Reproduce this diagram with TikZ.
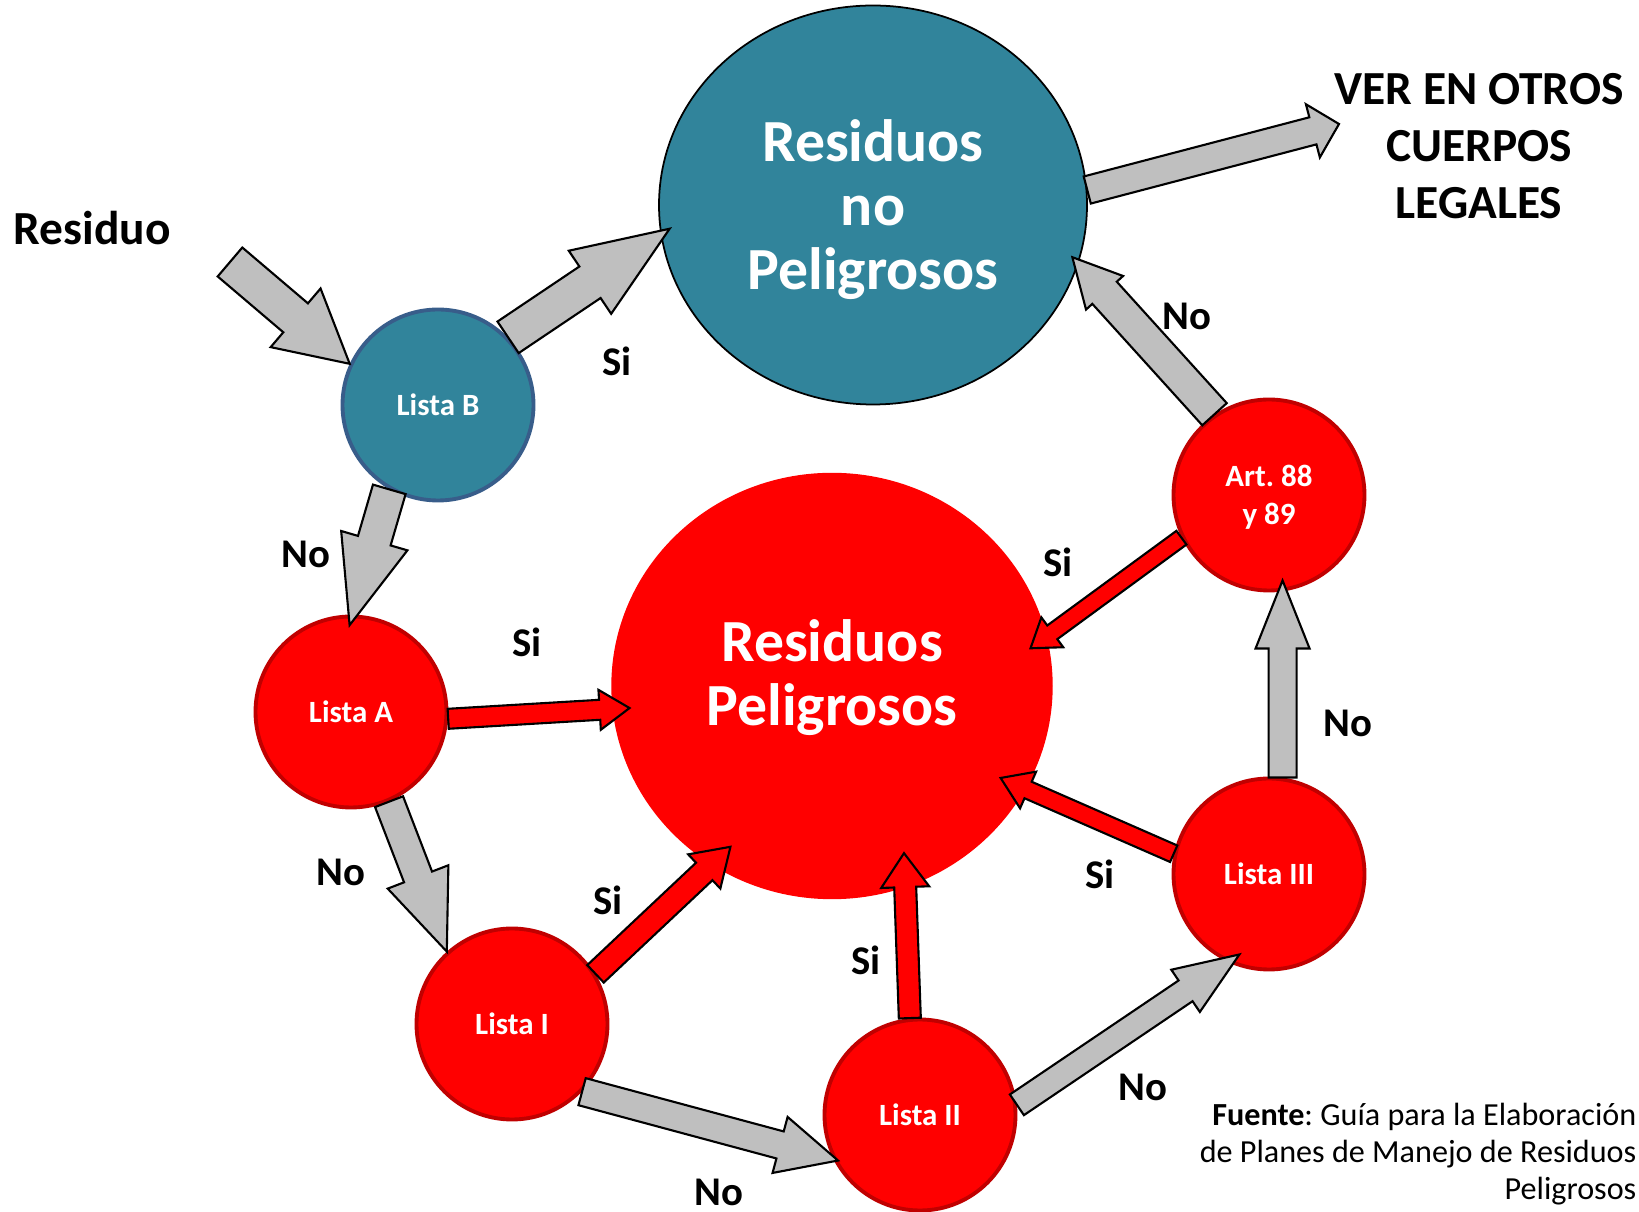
\documentclass[tikz,border=0pt]{standalone}
\usepackage{fontspec}
\setmainfont{Carlito}
\usepackage{xcolor}
\usepackage{tikz}
\usetikzlibrary{calc}
\usetikzlibrary{shapes.geometric}
\frenchspacing
\definecolor{azul}{HTML}{31849B}
\definecolor{azulborde}{HTML}{385D8A}
\definecolor{rojo}{HTML}{FF0000}
\definecolor{rojoborde}{HTML}{C00000}
\definecolor{gris}{HTML}{BFBFBF}
\tikzset{
	lista/.style={circle,draw=rojoborde,fill=rojo,line width=1.1pt,minimum size=1.91cm,inner sep=0pt,text=white,align=center,font=\bfseries\fontsize{8.8}{10.7}\selectfont},
	grande/.style={ellipse,inner sep=0pt,text=white,align=center,font=\bfseries\fontsize{17}{18.2}\selectfont},
	titulo/.style={align=center,font=\bfseries\fontsize{13.5}{16.3}\selectfont},
	rotulo/.style={font=\bfseries\fontsize{11.6}{13}\selectfont},
	gruesa/.style={draw=black,fill=gris,line width=0.6pt,line join=miter},
	delgada/.style={draw=black,fill=rojo,line width=0.6pt,line join=miter}
}
% flecha de bloque: [entra], estilo, desde, hasta, medio ancho, media punta, largo punta
\newcommand{\flecha}[7][0cm]{%
	\coordinate (f1) at (#3);
	\coordinate (f2) at ($(#4)!-#1!(#3)$);
	\coordinate (fn) at ($(f2)!#7!(f1)$);
	\draw[#2] ($(f1)!#5!90:(f2)$)--($(fn)!#5!-90:(f1)$)--($(fn)!#6!-90:(f1)$)--(f2)--($(fn)!#6!90:(f1)$)--($(fn)!#5!90:(f1)$)--($(f1)!#5!-90:(f2)$)--cycle;
}

\begin{document}
\begin{tikzpicture}
	\useasboundingbox (0,0) rectangle (16.39,12.12);
	\node[grande,draw=black,line width=0.5pt,fill=azul,minimum width=4.28cm,minimum height=3.99cm,text depth=0pt] (nopeligrosos) at (8.73,10.07) {Residuos\\no\\Peligrosos};
	\node[grande,draw=rojo,fill=rojo,minimum width=4.4cm,minimum height=4.25cm,text depth=0.27cm] (peligrosos) at (8.32,5.26) {Residuos\\Peligrosos};
	\node[lista,draw=azulborde,fill=azul] (listab) at (4.38,8.07) {Lista B};
	\node[lista] (listaa) at (3.51,5.00) {Lista A};
	\node[lista] (listai) at (5.12,1.88) {Lista I};
	\node[lista] (listaii) at (9.20,0.97) {Lista II};
	\node[lista] (listaiii) at (12.69,3.38) {Lista III};
	\node[lista,text depth=0pt] (art) at (12.69,7.17) {Art. 88\\y 89};
	\node[titulo] (residuo) at (0.92,9.84) {Residuo};
	\node[titulo] (ver) at (14.79,10.66) {VER EN OTROS\\CUERPOS\\LEGALES};
	\node[align=right,anchor=east,inner sep=0pt,font=\fontsize{9.15}{10.5}\selectfont] (fuente) at (16.37,0.58) {\textbf{Fuente}: Guía para la Elaboración\\de Planes de Manejo de Residuos\\Peligrosos};
	\coordinate (entrada) at (2.30,9.50);
	\coordinate (salida) at (13.39,10.88);
	% flechas grises (No)
	\flecha{gruesa}{entrada}{listab.155}{0.19cm}{0.385cm}{0.71cm}
	\flecha[0.11cm]{gruesa}{listab.44}{nopeligrosos.188}{0.19cm}{0.38cm}{0.96cm}
	\flecha[0.11cm]{gruesa}{listab.-120}{listaa.89}{0.17cm}{0.345cm}{0.88cm}
	\flecha{gruesa}{listaa.-67}{listai.132}{0.15cm}{0.325cm}{0.80cm}
	\flecha[0.05cm]{gruesa}{listai.-44}{listaii.207}{0.14cm}{0.29cm}{0.60cm}
	\flecha[0.14cm]{gruesa}{listaii.6}{listaiii.-115}{0.125cm}{0.255cm}{0.65cm}
	\flecha[0.11cm]{gruesa}{listaiii.82}{art.-82}{0.14cm}{0.27cm}{0.68cm}
	\flecha[0.09cm]{gruesa}{art.124}{nopeligrosos.-16}{0.165cm}{0.25cm}{0.48cm}
	\flecha{gruesa}{nopeligrosos.4.5}{salida}{0.14cm}{0.275cm}{0.27cm}
	% flechas rojas (Si)
	\flecha[0.17cm]{delgada}{listaa.-4}{peligrosos.186}{0.10cm}{0.20cm}{0.30cm}
	\flecha[0.26cm]{delgada}{listai.31}{peligrosos.236}{0.12cm}{0.235cm}{0.36cm}
	\flecha[0.34cm]{delgada}{listaii.96}{peligrosos.-70}{0.11cm}{0.24cm}{0.34cm}
	\flecha[0.27cm]{delgada}{listaiii.168}{peligrosos.-28}{0.09cm}{0.20cm}{0.30cm}
	\flecha[0.20cm]{delgada}{art.206}{peligrosos.13}{0.085cm}{0.185cm}{0.27cm}
	% rotulos
	\node[rotulo] (si1) at (6.17,8.51) {Si};
	\node[rotulo] (no1) at (3.06,6.58) {No};
	\node[rotulo] (si2) at (5.27,5.70) {Si};
	\node[rotulo] (no2) at (3.41,3.40) {No};
	\node[rotulo] (si3) at (6.08,3.12) {Si};
	\node[rotulo] (si4) at (8.66,2.52) {Si};
	\node[rotulo] (no3) at (7.19,0.20) {No};
	\node[rotulo] (no4) at (11.43,1.25) {No};
	\node[rotulo] (si5) at (11.00,3.38) {Si};
	\node[rotulo] (no5) at (13.48,4.89) {No};
	\node[rotulo] (si6) at (10.58,6.50) {Si};
	\node[rotulo] (no6) at (11.87,8.96) {No};
\end{tikzpicture}
\end{document}
